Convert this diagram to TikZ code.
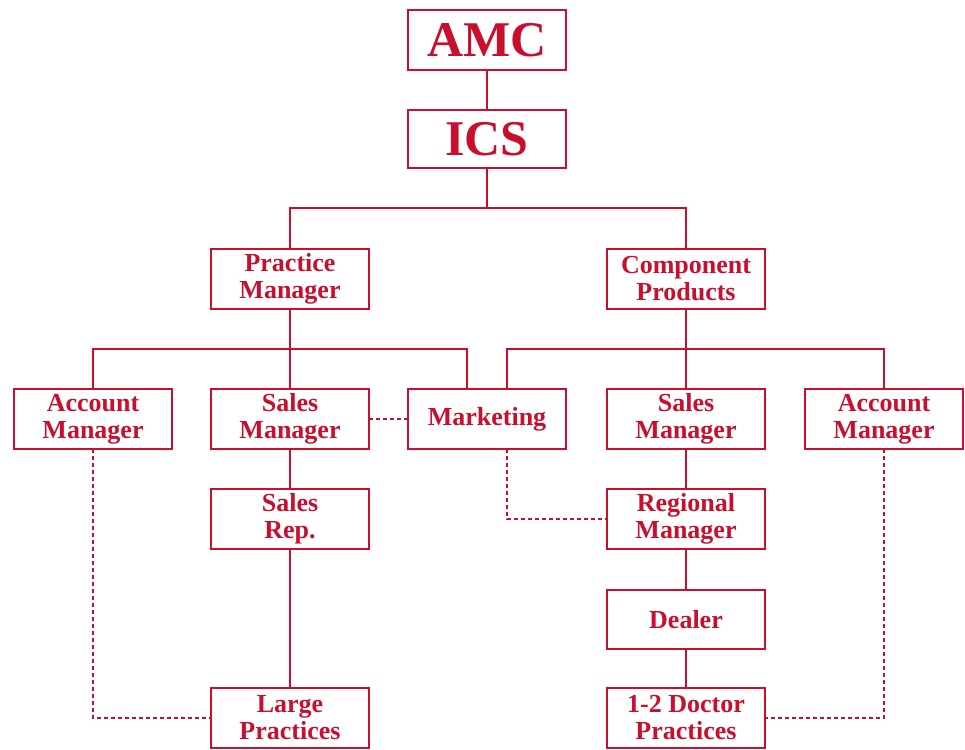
\documentclass[tikz,border=0pt]{standalone}
\usepackage{fontspec}
\setmainfont{Liberation Serif}
\usepackage{xcolor}
\usepackage{tikz}
\usetikzlibrary{positioning,calc}
\definecolor{amcred}{HTML}{C8102E}

\begin{document}
\begin{tikzpicture}[x=1pt,y=1pt,font=\bfseries\fontsize{26}{27}\selectfont,node distance=40pt and 39pt]
  \tikzstyle{b}=[draw=amcred,line width=2pt,text=amcred,minimum height=60pt,minimum width=158pt,align=center,inner sep=0pt,outer sep=0pt,fill=white]
  \tikzstyle{link}=[draw=amcred,line width=2pt]
  \tikzstyle{dotline}=[draw=amcred,line width=2pt,dash pattern=on 4pt off 3pt]
  \tikzstyle{big}=[font=\bfseries\fontsize{50}{50}\selectfont]
  \useasboundingbox (0,0) rectangle (965,-749);
  \node[b,big] (amc) at (487,-40) {AMC};
  \node[b,big,below=40pt of amc,minimum height=58pt] (ics) {ICS};
  \node[b,below=81pt of ics,xshift=-197pt] (pm) {Practice\\Manager};
  \node[b,right=238pt of pm] (cp) {Component\\Products};
  \node[b,below=80pt of pm] (sm1) {Sales\\Manager};
  \node[b,left=of sm1] (am1) {Account\\Manager};
  \node[b,right=of sm1] (mkt) {Marketing};
  \node[b,below=80pt of cp] (sm2) {Sales\\Manager};
  \node[b,right=40pt of sm2] (am2) {Account\\Manager};
  \node[b,below=of sm1] (sr) {Sales\\Rep.};
  \node[b,below=139pt of sr] (lp) {Large\\Practices};
  \node[b,below=of sm2] (rm) {Regional\\Manager};
  \node[b,below=41pt of rm,minimum height=59pt] (dl) {Dealer};
  \node[b,below=39pt of dl] (dp) {1-2 Doctor\\Practices};
  % solid lines
  \draw[link] (amc) -- (ics);
  \draw[link] (ics.south) -- ++(0,-40) coordinate (topbus);
  \draw[link] (pm.north) |- (topbus) -| (cp.north);
  \draw[link] (pm) -- (sm1);
  \draw[link] (am1.north) -- ++(0,40) -| ([xshift=-20pt]mkt.north);
  \draw[link] (cp) -- (sm2);
  \draw[link] ([xshift=20pt]mkt.north) -- ++(0,40) -| (am2.north);
  \draw[link] (sm1) -- (sr);
  \draw[link] (sr) -- (lp);
  \draw[link] (sm2) -- (rm);
  \draw[link] (rm) -- (dl);
  \draw[link] (dl) -- (dp);
  % dotted lines
  \draw[dotline] (sm1) -- (mkt);
  \draw[dotline] (am1.south) |- (lp.west);
  \draw[dotline] (am2.south) |- (dp.east);
  \draw[dotline] ([xshift=20pt]mkt.south) |- (rm.west);
\end{tikzpicture}
\end{document}
